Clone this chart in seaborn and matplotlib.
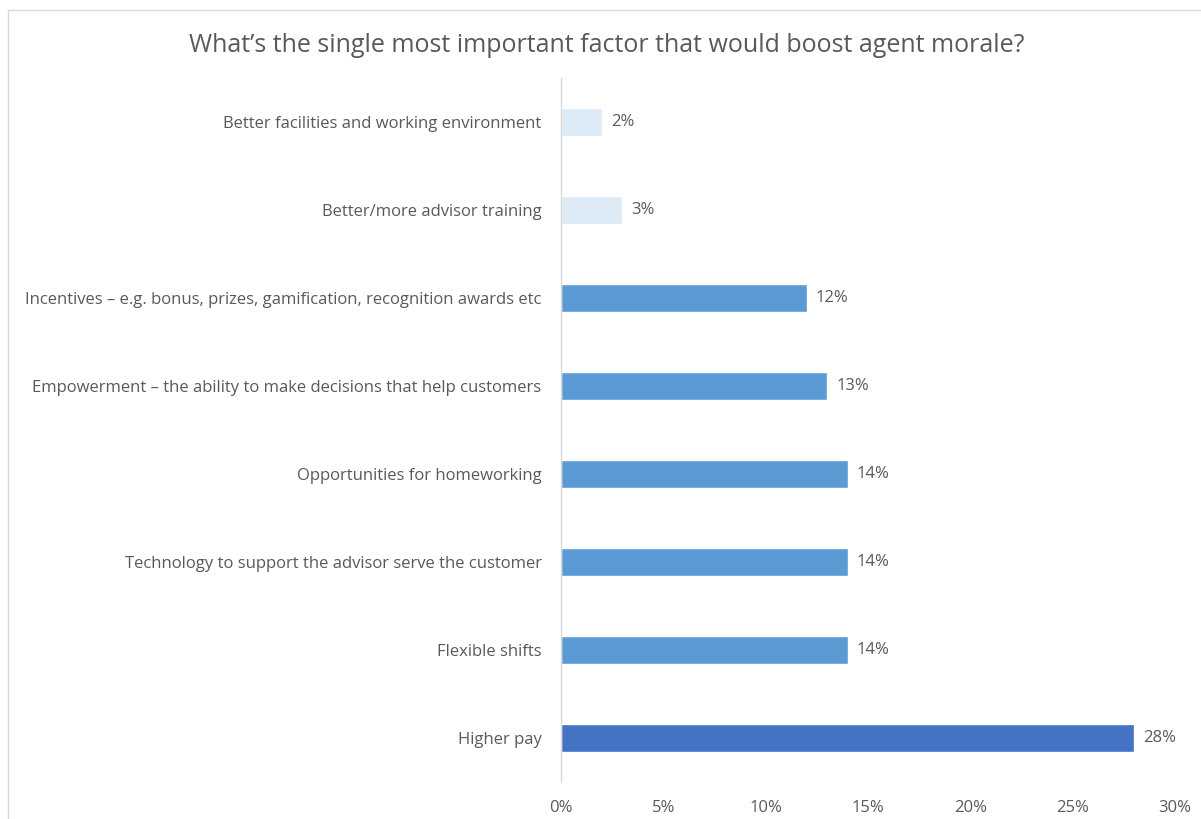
import matplotlib
matplotlib.use("Agg")
import matplotlib.pyplot as plt
import seaborn as sns
import pandas as pd
from matplotlib.patches import Rectangle

categories = [
    "Better facilities and working environment",
    "Better/more advisor training",
    "Incentives \u2013 e.g. bonus, prizes, gamification, recognition awards etc",
    "Empowerment \u2013 the ability to make decisions that help customers",
    "Opportunities for homeworking",
    "Technology to support the advisor serve the customer",
    "Flexible shifts",
    "Higher pay",
]
values = [2, 3, 12, 13, 14, 14, 14, 28]
bar_colors = ["#DDEBF7", "#DDEBF7", "#5B9BD5", "#5B9BD5", "#5B9BD5", "#5B9BD5", "#5B9BD5", "#4472C4"]
xticks = [0, 5, 10, 15, 20, 25, 30]
title = "What\u2019s the single most important factor that would boost agent morale?"

sns.set_theme(style="white")
plt.rcParams["font.family"] = ["Open Sans", "DejaVu Sans"]
text_color = "#595959"
fs = 12

df = pd.DataFrame({"cat": categories, "val": values})

fig = plt.figure(figsize=(12.01, 8.19), dpi=100)
W, H = 1201, 819
ax = fig.add_axes([561 / W, 1 - 782 / H, (1175 - 561) / W, (782 - 78) / H])

sns.barplot(data=df, y="cat", x="val", hue="cat", palette=bar_colors, legend=False,
            width=0.32, ax=ax, saturation=1, orient="h")

ax.set_xlim(0, 30)
ax.set_xticks(xticks)
ax.set_xticklabels([f"{t}%" for t in xticks], fontsize=fs, color=text_color)
ax.tick_params(axis="x", length=0, pad=13)
ax.tick_params(axis="y", length=0, pad=14, labelsize=fs, labelcolor=text_color)
ax.set_xlabel("")
ax.set_ylabel("")
for s in ["top", "right", "bottom"]:
    ax.spines[s].set_visible(False)
ax.spines["left"].set_color("#D9D9D9")
ax.spines["left"].set_linewidth(1)

for i, v in enumerate(values):
    ax.text(v + 0.45, i, f"{v}%", va="center", ha="left", fontsize=fs, color=text_color)

fig.text(607 / W, 1 - 45 / H, title, ha="center", va="center", fontsize=18, color=text_color)

fig.patches.append(Rectangle((8 / W, -0.05), 1.2, 1 - 10 / H + 0.05, transform=fig.transFigure,
                             fill=False, edgecolor="#D9D9D9", linewidth=1))

fig.savefig("out.png", dpi=100)
